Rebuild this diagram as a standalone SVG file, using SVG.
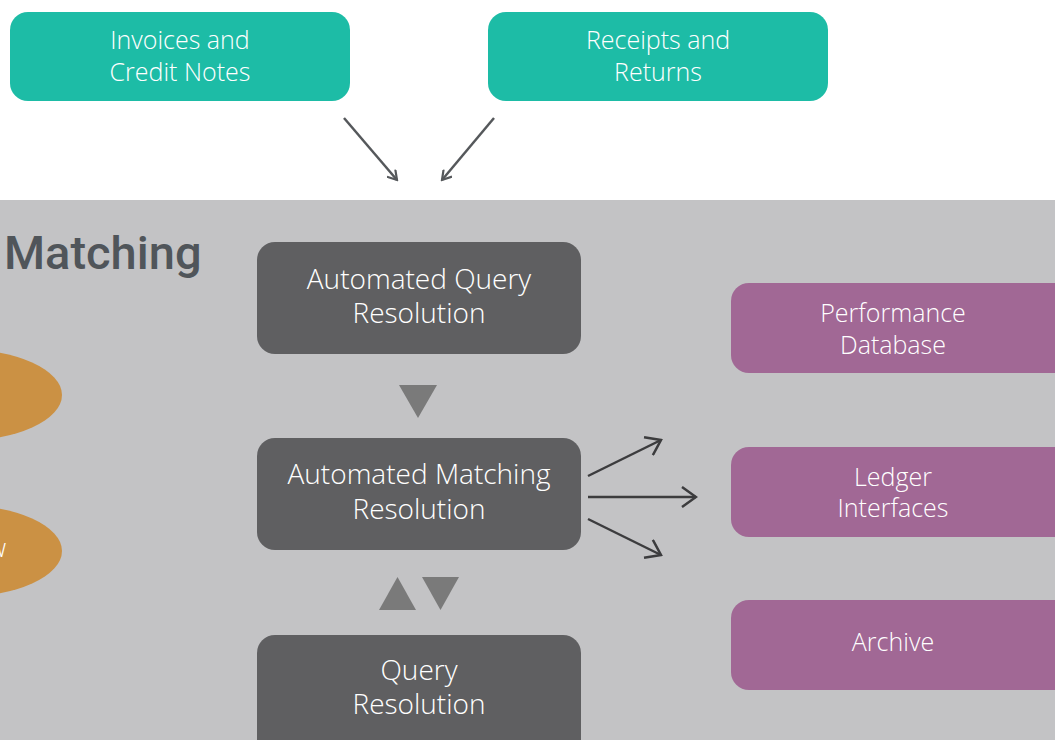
<svg xmlns="http://www.w3.org/2000/svg" width="1055" height="740" viewBox="0 0 1055 740">
<defs>
<style>
.t{font-family:"Open Sans","Noto Sans","Liberation Sans",sans-serif;font-weight:300;fill:#ffffff;text-anchor:middle}
.teal{fill:#1dbca6}
.dark{fill:#5f5f61}
.purple{fill:#a16895}
.orange{fill:#cb9144}
.tri{fill:#7a7a7a}
.conn{stroke:#55585b;stroke-width:2.5;fill:none}
.conn2{stroke:#3c3c3e;stroke-width:2.5;fill:none}
</style>
<marker id="ah" viewBox="0 0 12 12" refX="10" refY="6" markerWidth="12" markerHeight="12" markerUnits="userSpaceOnUse" orient="auto">
<path d="M1,0.5 L10,6 L1,11.5" fill="none" stroke="#55585b" stroke-width="2.2"/>
</marker>
<marker id="ah2" viewBox="0 0 22 22" refX="20" refY="11" markerWidth="22" markerHeight="22" markerUnits="userSpaceOnUse" orient="auto">
<path d="M6,1 L20,11 L6,21" fill="none" stroke="#3c3c3e" stroke-width="2.5"/>
</marker>
</defs>
<rect x="0" y="0" width="1055" height="740" fill="#ffffff"/>
<rect x="0" y="200" width="1055" height="540" fill="#c3c3c5"/>
<text x="4" y="269" font-family="Roboto,'Liberation Sans',sans-serif" font-weight="500" font-size="47" fill="#50555a">Matching</text>

<g id="invoices">
<rect class="teal" x="10" y="12" width="340" height="89" rx="18"/>
<text class="t" x="180" y="49" font-size="25">Invoices and</text>
<text class="t" x="180" y="81" font-size="25">Credit Notes</text>
</g>
<g id="receipts">
<rect class="teal" x="488" y="12" width="340" height="89" rx="18"/>
<text class="t" x="658" y="49" font-size="25">Receipts and</text>
<text class="t" x="658" y="81" font-size="25">Returns</text>
</g>

<g id="ellipse1"><ellipse class="orange" cx="-40" cy="395" rx="102" ry="46"/></g>
<g id="ellipse2"><ellipse class="orange" cx="-40" cy="551" rx="102" ry="46"/>
<text class="t" x="6" y="557" font-size="25" style="text-anchor:end">w</text></g>

<g id="auto-query">
<rect class="dark" x="257" y="242" width="324" height="112" rx="18"/>
<text class="t" x="419" y="289" font-size="28">Automated Query</text>
<text class="t" x="419" y="323" font-size="28">Resolution</text>
</g>
<g id="auto-matching">
<rect class="dark" x="257" y="438" width="324" height="112" rx="18"/>
<text class="t" x="419" y="484" font-size="28">Automated Matching</text>
<text class="t" x="419" y="519" font-size="28">Resolution</text>
</g>
<g id="query">
<rect class="dark" x="257" y="635" width="324" height="125" rx="18"/>
<text class="t" x="419" y="680" font-size="28">Query</text>
<text class="t" x="419" y="714" font-size="28">Resolution</text>
</g>

<g id="perf-db">
<rect class="purple" x="731" y="283" width="340" height="90" rx="18"/>
<text class="t" x="893" y="322" font-size="25">Performance</text>
<text class="t" x="893" y="354" font-size="25">Database</text>
</g>
<g id="ledger">
<rect class="purple" x="731" y="447" width="340" height="90" rx="18"/>
<text class="t" x="893" y="486" font-size="25">Ledger</text>
<text class="t" x="893" y="517" font-size="25">Interfaces</text>
</g>
<g id="archive">
<rect class="purple" x="731" y="600" width="340" height="90" rx="18"/>
<text class="t" x="893" y="651" font-size="25">Archive</text>
</g>

<g id="connectors">
<line class="conn" x1="344" y1="118" x2="397" y2="180" marker-end="url(#ah)"/>
<line class="conn" x1="494" y1="118" x2="442" y2="180" marker-end="url(#ah)"/>
<polygon class="tri" points="399,385 437,385 418,418"/>
<polygon class="tri" points="379,610 416,610 397.5,577"/>
<polygon class="tri" points="422,577 459,577 440.5,610"/>
<line class="conn2" x1="588" y1="476" x2="661" y2="440" marker-end="url(#ah2)"/>
<line class="conn2" x1="588" y1="497" x2="696" y2="497" marker-end="url(#ah2)"/>
<line class="conn2" x1="588" y1="519" x2="661" y2="555" marker-end="url(#ah2)"/>
</g>
</svg>
